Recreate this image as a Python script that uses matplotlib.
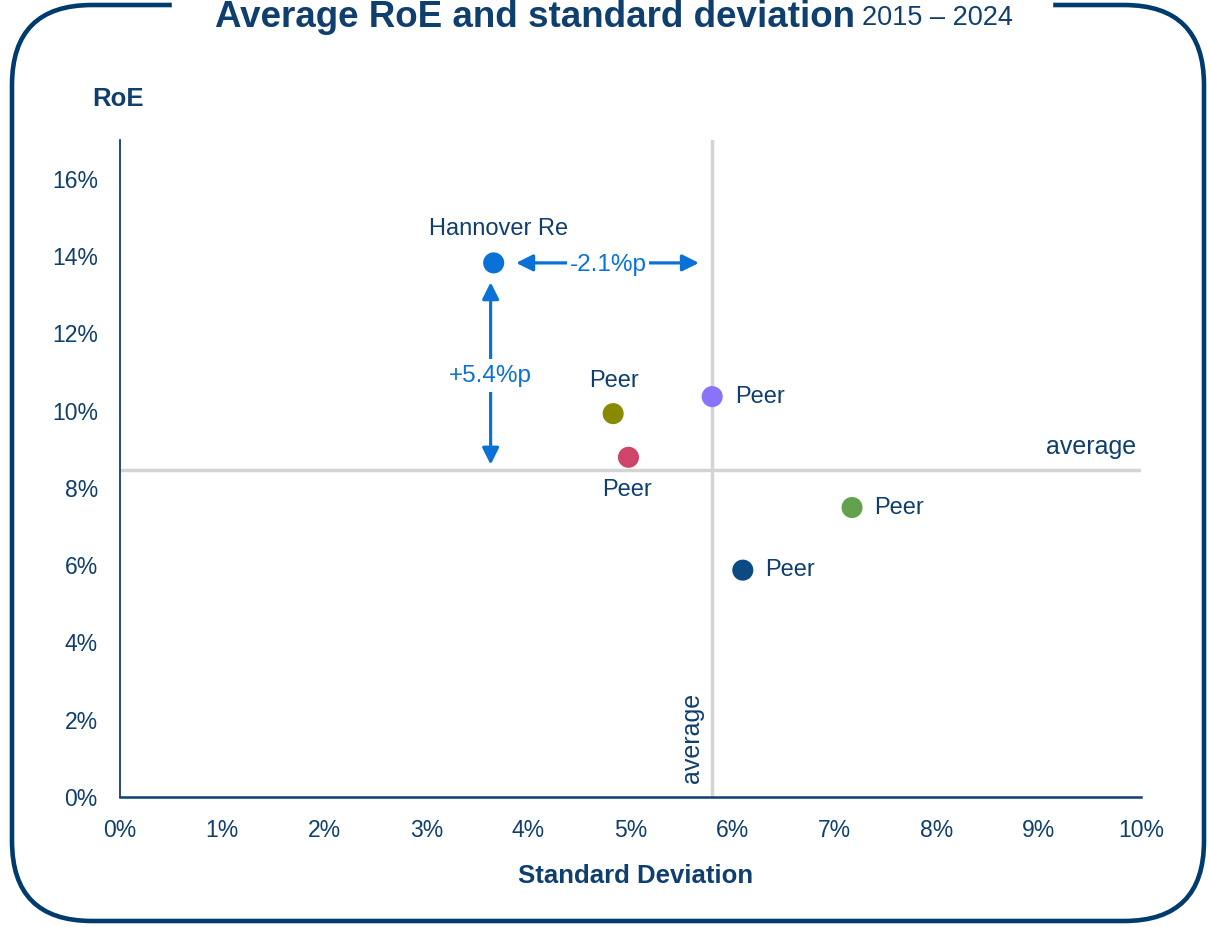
import matplotlib.pyplot as plt
from matplotlib.patches import FancyBboxPatch, Rectangle
from matplotlib.ticker import FuncFormatter

# data (percent)
names = ["Hannover Re", "Peer", "Peer", "Peer", "Peer", "Peer"]
std_dev = [3.66, 4.83, 4.98, 5.80, 7.17, 6.10]
roe = [13.82, 9.92, 8.79, 10.36, 7.49, 5.87]
colors = ["#0a72d6", "#8a8a00", "#cf4469", "#8b72fb", "#62a14d", "#0b4a82"]
avg_std = 5.80
avg_roe = 8.45
diff_std = "-2.1%p"
diff_roe = "+5.4%p"

navy = "#0f3f6e"
blue = "#0a72d6"
grey = "#d4d4d4"

plt.rcParams['font.family'] = ['Liberation Sans', 'DejaVu Sans']

fig = plt.figure(figsize=(12.11, 9.27), dpi=100)
W, H = 1211, 927

# rounded frame with a gap for the title
frame = FancyBboxPatch((12 / W, 6 / H), 1192 / W, 916 / H,
                       boxstyle="round,pad=0,rounding_size=0.066",
                       transform=fig.transFigure, fill=False,
                       edgecolor="#003b6f", lw=3.3, mutation_aspect=W / H)
fig.patches.append(frame)
fig.patches.append(Rectangle((172 / W, 1 - 22 / H), 880 / W, 22 / H,
                             transform=fig.transFigure, color="white", zorder=3))
fig.text(855 / W, 1 - 27 / H, "Average RoE and standard deviation", ha="right",
         va="baseline", fontsize=26.5, fontweight="bold", color=navy, zorder=4)
fig.text(862 / W, 1 - 25 / H, "2015 \u2013 2024", ha="left", va="baseline",
         fontsize=19.5, color=navy, zorder=4)

ax = fig.add_axes([120 / W, 1 - 797 / H, 1021 / W, 657 / H])
ax.set_xlim(0, 10)
ax.set_ylim(0, 17)
ax.set_xticks(range(0, 11))
ax.set_yticks(range(0, 17, 2))
pct = FuncFormatter(lambda v, p: f"{v:.0f}%")
ax.xaxis.set_major_formatter(pct)
ax.yaxis.set_major_formatter(pct)
ax.tick_params(length=0, labelsize=16.5, colors=navy)
ax.tick_params(axis="x", pad=16)
ax.tick_params(axis="y", pad=16)
for s in ["top", "right"]:
    ax.spines[s].set_visible(False)
ax.spines["left"].set_color(navy)
ax.spines["left"].set_linewidth(1.3)
ax.spines["bottom"].set_color(navy)
ax.spines["bottom"].set_linewidth(1.8)

# average lines
ax.axvline(avg_std, color=grey, lw=2.5, zorder=1)
ax.axhline(avg_roe, color=grey, lw=2.5, zorder=1)
ax.text(9.95, avg_roe + 0.3, "average", ha="right", va="bottom", fontsize=18, color=navy)
ax.text(avg_std - 0.08, 0.35, "average", rotation=90, ha="right", va="bottom",
        fontsize=18, color=navy)

ax.scatter(std_dev, roe, s=230, c=colors, zorder=3, linewidths=0)

# point labels
ax.text(std_dev[0] + 0.05, roe[0] + 0.6, names[0], ha="center", va="bottom", fontsize=17, color=navy)
ax.text(std_dev[1] + 0.01, roe[1] + 0.55, names[1], ha="center", va="bottom", fontsize=17, color=navy)
ax.text(std_dev[2] - 0.01, roe[2] - 0.55, names[2], ha="center", va="top", fontsize=17, color=navy)
for i in (3, 4, 5):
    ax.text(std_dev[i] + 0.22, roe[i], names[i], ha="left", va="center", fontsize=17, color=navy)

# difference arrows
arrow = dict(arrowstyle="<|-|>", color=blue, lw=2.3, mutation_scale=25, shrinkA=0, shrinkB=0)
ax.annotate("", xy=(std_dev[0] + 0.22, roe[0]), xytext=(avg_std - 0.13, roe[0]), arrowprops=arrow)
ax.text((std_dev[0] + avg_std) / 2 + 0.05, roe[0] - 0.05, diff_std, ha="center", va="center",
        fontsize=17.5, color=blue, bbox=dict(fc="white", ec="none", pad=2))
ax.annotate("", xy=(std_dev[0] - 0.03, roe[0] - 0.5), xytext=(std_dev[0] - 0.03, avg_roe + 0.15),
            arrowprops=arrow)
ax.text(std_dev[0] - 0.03, 10.9, diff_roe, ha="center", va="center",
        fontsize=17.5, color=blue, bbox=dict(fc="white", ec="none", pad=4))

fig.text(118 / W, 1 - 99 / H, "RoE", ha="center", va="center", fontsize=18.5,
         fontweight="bold", color=navy)
fig.text(636 / W, 1 - 876 / H, "Standard Deviation", ha="center", va="center",
         fontsize=18.5, fontweight="bold", color=navy)

fig.savefig("out.png", dpi=100)
